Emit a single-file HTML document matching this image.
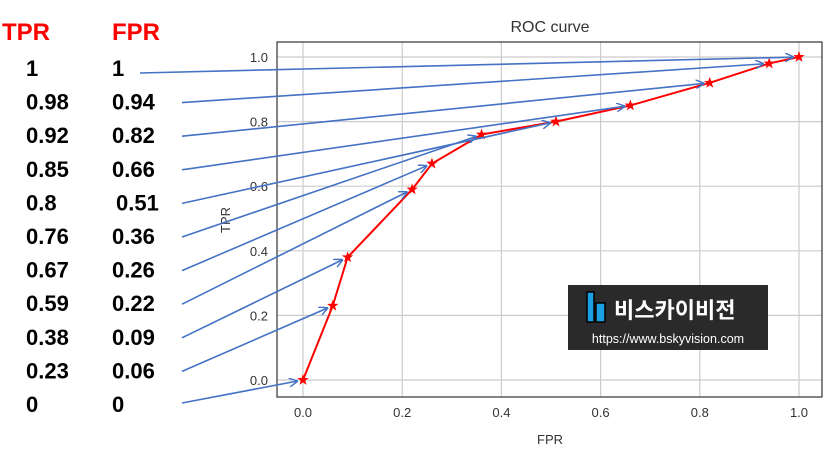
<!DOCTYPE html>
<html><head><meta charset="utf-8"><style>
body{margin:0;width:834px;height:457px;background:#fff;overflow:hidden;font-family:"Liberation Sans","Noto Sans CJK KR",sans-serif}
</style></head><body>
<svg width="834" height="457" xmlns="http://www.w3.org/2000/svg" id="svg">
<defs><marker id="ah" viewBox="0 0 10 10" refX="9" refY="5" markerWidth="9" markerHeight="9" orient="auto" markerUnits="userSpaceOnUse"><path d="M0,0 L10,5 L0,10" fill="none" stroke="#4472c4" stroke-width="1.6"/></marker></defs>
<g id="grid"></g>
<rect x="277" y="42" width="545" height="355" fill="none" stroke="#333" stroke-width="1.2"/>
<text x="550" y="32" text-anchor="middle" font-size="16" fill="#333">ROC curve</text>
<text x="550" y="444" text-anchor="middle" font-size="13" fill="#333">FPR</text>
<text x="230" y="220" text-anchor="middle" font-size="13" fill="#333" transform="rotate(-90 230 220)">TPR</text>
<g id="ticks"></g>
<g id="series"></g>
<g>
<rect x="568" y="285" width="200" height="65" fill="#2a2a2a"/>
<rect x="587" y="292" width="7" height="30" fill="#1ba1e2" stroke="#000" stroke-width="1.5"/>
<rect x="596" y="303" width="9" height="19" fill="#1ba1e2" stroke="#000" stroke-width="1.5"/>
<text x="614" y="318" font-size="22" font-weight="bold" fill="#fff">비스카이비전</text>
<text x="668" y="343" text-anchor="middle" font-size="12.5" fill="#fff">https://www.bskyvision.com</text>
</g>
<g id="table"></g>
<g id="arrows"></g>
</svg>
<script>
const tpr=[1,0.98,0.92,0.85,0.8,0.76,0.67,0.59,0.38,0.23,0];
const fpr=[1,0.94,0.82,0.66,0.51,0.36,0.26,0.22,0.09,0.06,0];
const tprLabels=["1","0.98","0.92","0.85","0.8","0.76","0.67","0.59","0.38","0.23","0"];
const fprLabels=["1","0.94","0.82","0.66","0.51","0.36","0.26","0.22","0.09","0.06","0"];
const ticks=[0,0.2,0.4,0.6,0.8,1.0];
const tickLabels=["0.0","0.2","0.4","0.6","0.8","1.0"];
const NS="http://www.w3.org/2000/svg";
const sx=v=>303+v*496, sy=v=>380-v*323;
function mk(t,a,p){const e=document.createElementNS(NS,t);for(const k in a)e.setAttribute(k,a[k]);document.getElementById(p).appendChild(e);return e;}
ticks.forEach((t,i)=>{
 let g=mk('line',{x1:sx(t),x2:sx(t),y1:42,y2:397,stroke:'#ccc','stroke-width':1.2},'grid');
 
 
 g=mk('line',{x1:277,x2:822,y1:sy(t),y2:sy(t),stroke:'#ccc','stroke-width':1.2},'grid');
 
 
 let l=mk('text',{x:sx(t),y:417,'text-anchor':'middle','font-size':13,fill:'#333'},'ticks');l.textContent=tickLabels[i];
 
 
 l=mk('text',{x:268,y:sy(t)+5,'text-anchor':'end','font-size':13,fill:'#333'},'ticks');l.textContent=tickLabels[i];
 
 
});
const pts=fpr.map((f,i)=>[sx(f),sy(tpr[i])]);
const pl=mk('polyline',{points:pts.map(p=>p.join(',')).join(' '),fill:'none',stroke:'#ff0000','stroke-width':2},'series');


function star(cx,cy,r){let s='';for(let k=0;k<10;k++){const a=-Math.PI/2+k*Math.PI/5,rr=k%2?r*0.4:r;s+=(cx+rr*Math.cos(a))+','+(cy+rr*Math.sin(a))+' ';}return s;}
pts.forEach(p=>{const s=mk('polygon',{points:star(p[0],p[1],6),fill:'#ff0000'},'series');
 
 });
let h=mk('text',{x:2,y:40,'font-size':24,'font-weight':'bold',fill:'#ff0000'},'table');h.textContent='TPR';


h=mk('text',{x:112,y:40,'font-size':24,'font-weight':'bold',fill:'#ff0000'},'table');h.textContent='FPR';


tpr.forEach((v,i)=>{
 const y=76+i*33.6;
 let t=mk('text',{x:26,y:y,'font-size':22,'font-weight':'bold',fill:'#000'},'table');t.textContent=tprLabels[i];
 
 
 t=mk('text',{x:i==4?116:112,y:y,'font-size':22,'font-weight':'bold',fill:'#000'},'table');t.textContent=fprLabels[i];
 
 
 const x0=i==0?140:(i==10?182:182), y0=i==0?73:(y-7+ (i==10?-2:0));
 const [px,py]=pts[i];const dx=px-x0,dy=py-y0,d=Math.hypot(dx,dy);
 const a=mk('line',{x1:x0,y1:y0,x2:px-dx/d*6,y2:py-dy/d*6,stroke:'#4472c4','stroke-width':1.6,'marker-end':'url(#ah)'},'arrows');
 
 
});
</script>
</body></html>
